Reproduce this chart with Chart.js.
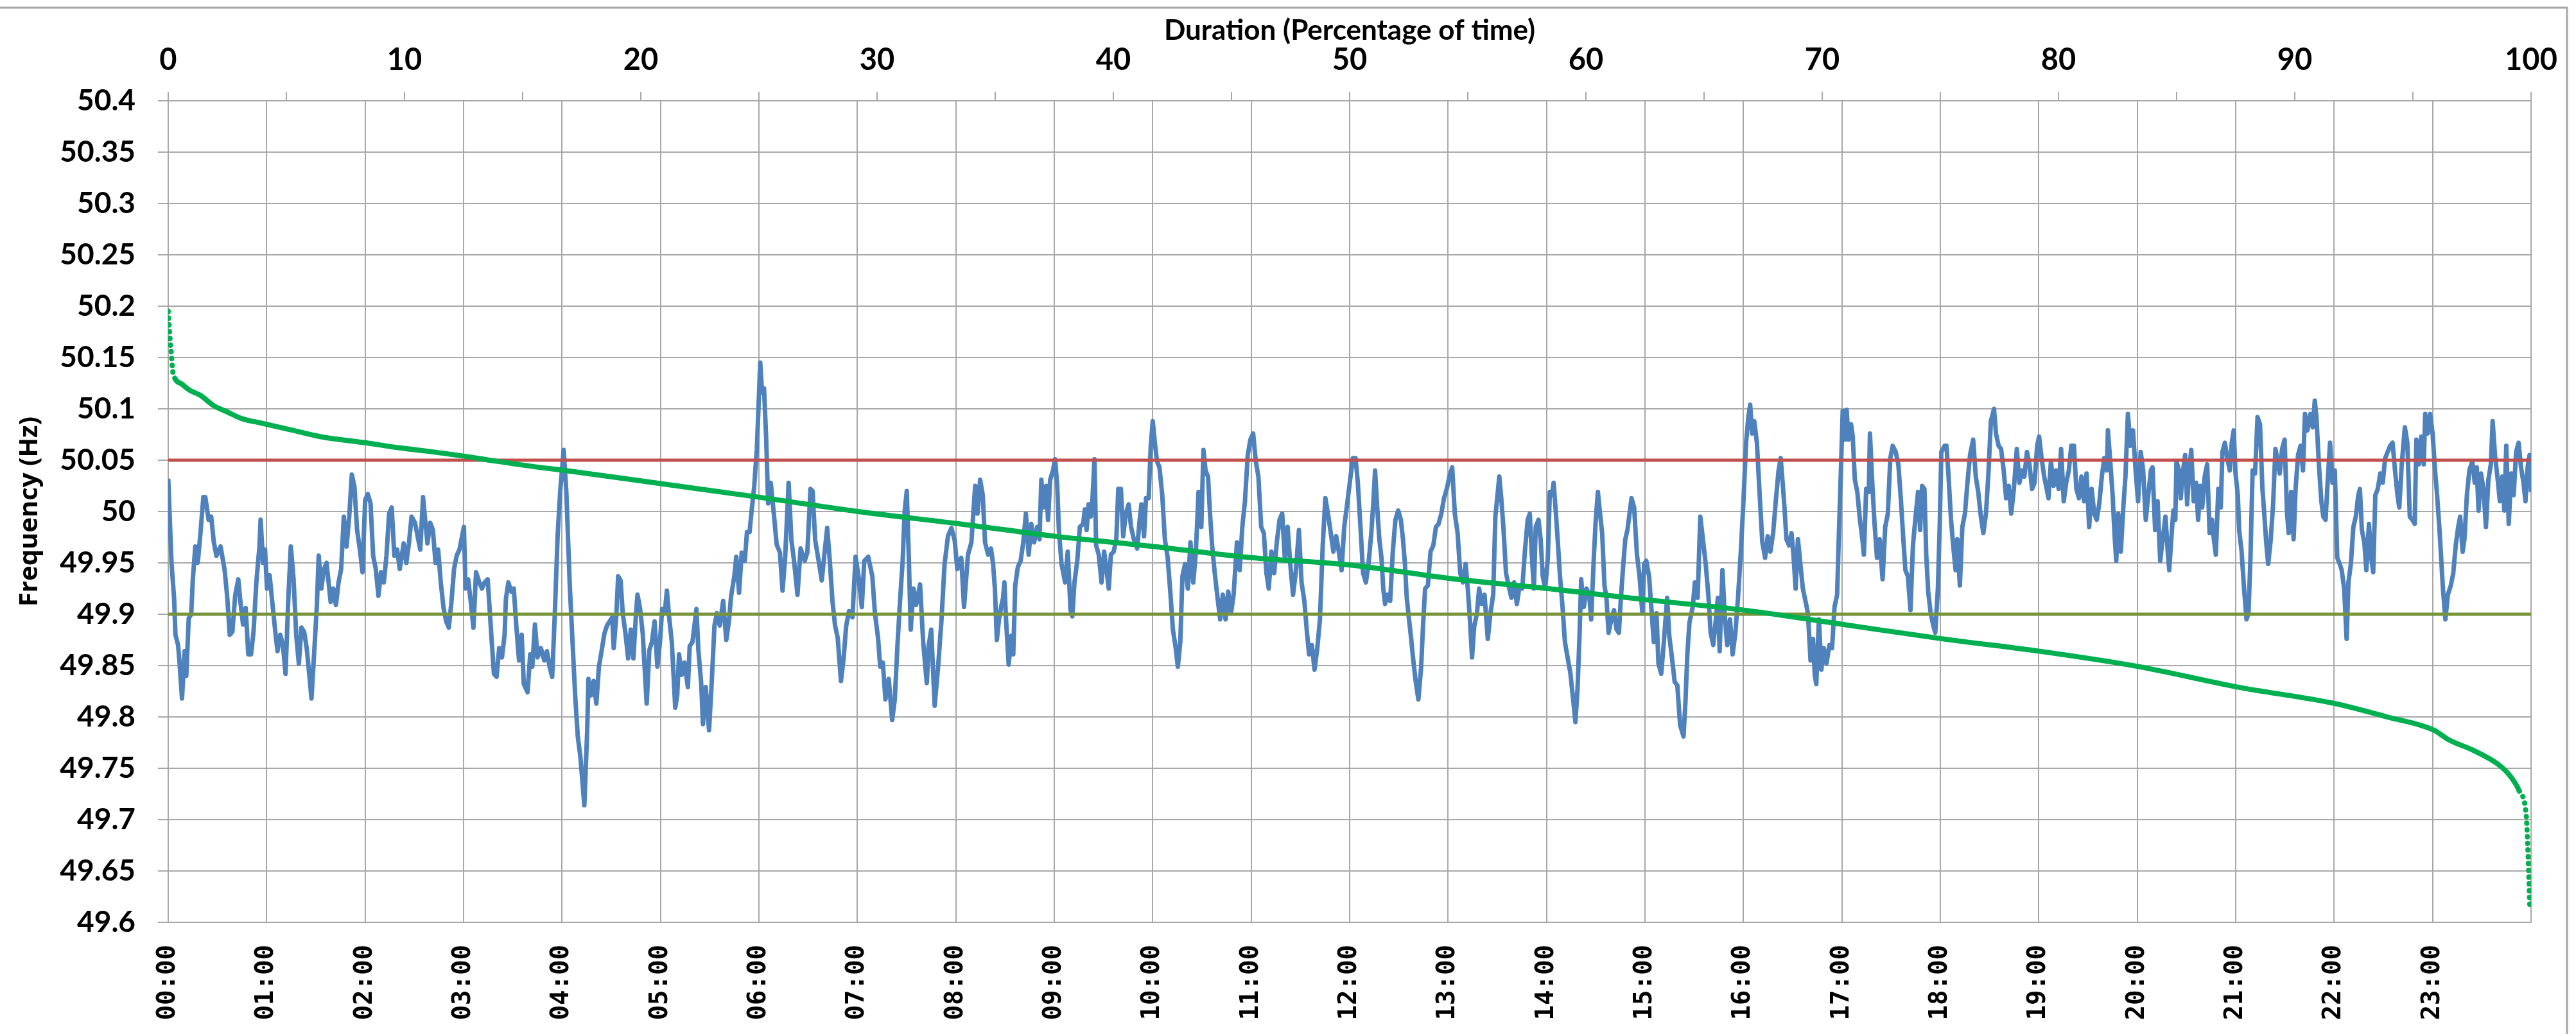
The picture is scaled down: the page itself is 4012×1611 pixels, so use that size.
<!DOCTYPE html>
<html>
<head>
<meta charset="utf-8">
<title>Frequency trace and duration curve</title>
<script src="https://cdn.jsdelivr.net/npm/chart.js@4.4.1/dist/chart.umd.min.js"></script>
<style>
  html, body { margin: 0; padding: 0; background: #ffffff; }
  #wrap { position: relative; width: 4012px; height: 1611px; }
</style>
</head>
<body>
<div id="wrap"><canvas id="freqChart"></canvas></div>
<script>
'use strict';

// Operating limits (Hz)
const upperLimitHz = 50.05;
const lowerLimitHz = 49.9;

// Bottom axis labels, one per hour
const hourLabels = [
  '00:00', '01:00', '02:00', '03:00', '04:00', '05:00', '06:00', '07:00',
  '08:00', '09:00', '10:00', '11:00', '12:00', '13:00', '14:00', '15:00',
  '16:00', '17:00', '18:00', '19:00', '20:00', '21:00', '22:00', '23:00'
];

// Top axis labels (percentage of time)
const percentLabels = [0, 10, 20, 30, 40, 50, 60, 70, 80, 90, 100];

// Frequency over the day: [minute of day, Hz]
const frequencyTrace = [
  [0,50.032],[2,49.95],[3.6,49.915],[4.4,49.88],[6,49.87],[6.8,49.855],[8.4,49.818],[10,49.864],[11,49.84],[12.5,49.896],
  [14,49.9],[15,49.934],[16.5,49.966],[18,49.95],[19.7,49.98],[21.4,50.014],[22.6,50.014],[24.6,49.992],[26.2,49.995],[27.8,49.97],
  [29.4,49.957],[31.9,49.966],[34.3,49.944],[35.9,49.918],[37.5,49.88],[39.1,49.883],[40.8,49.918],[42.7,49.934],[44,49.912],[45.6,49.89],
  [47.2,49.906],[48.8,49.861],[50.5,49.861],[52,49.883],[53.7,49.931],[55.6,49.966],[56.3,49.992],[57.8,49.95],[59,49.963],[60.2,49.925],
  [61.8,49.938],[63.4,49.912],[65,49.887],[66.6,49.864],[68.3,49.88],[69.9,49.87],[71.5,49.842],[73.1,49.912],[74.7,49.966],[76.4,49.934],
  [78,49.88],[79.6,49.852],[81.2,49.887],[82.8,49.883],[84.4,49.867],[86.1,49.839],[87.3,49.818],[89,49.864],[90.6,49.909],[91.7,49.957],
  [93.3,49.925],[94.9,49.944],[96.5,49.95],[99,49.912],[100.6,49.925],[102.2,49.909],[103.8,49.931],[105.4,49.944],[107,49.995],[108.7,49.966],
  [110.3,49.995],[111.9,50.036],[113.5,50.024],[115.1,49.982],[116.8,49.963],[118.4,49.941],[120,50.011],[121.6,50.017],[123.3,50.008],[124.9,49.957],
  [126.5,49.944],[128.1,49.918],[129.7,49.941],[131.4,49.931],[133,49.957],[134.6,49.998],[136.2,50.004],[137.8,49.957],[139.5,49.963],[141.1,49.944],
  [143.5,49.969],[145.1,49.95],[146.7,49.969],[148.3,49.995],[150.4,49.989],[151.5,49.98],[153.6,49.963],[155.3,50.014],[156.4,49.995],[158,49.969],
  [159.7,49.989],[161.3,49.982],[162.9,49.95],[164.5,49.963],[166.1,49.931],[167.8,49.906],[169.4,49.893],[171,49.887],[172.6,49.912],[174.2,49.944],
  [175.8,49.957],[177.5,49.963],[179.1,49.976],[180.2,49.985],[181.2,49.925],[182.8,49.934],[184.4,49.912],[186,49.887],[187.6,49.941],[189.6,49.931],
  [191.2,49.925],[192.8,49.931],[194.7,49.934],[196.9,49.88],[198.5,49.842],[200.1,49.839],[201.7,49.867],[203.4,49.858],[205,49.88],[205.8,49.915],
  [207.3,49.931],[209,49.922],[210.6,49.925],[212.2,49.887],[213.8,49.855],[215.4,49.88],[216.7,49.832],[219,49.824],[220.6,49.861],[221.9,49.849],
  [223.5,49.89],[225.1,49.858],[227.1,49.867],[229.2,49.855],[230.8,49.864],[232.4,49.849],[234,49.839],[235.6,49.9],[237.3,49.976],[238.9,50.02],
  [241,50.06],[242.6,50.02],[244.7,49.929],[246.4,49.873],[248,49.821],[249.6,49.781],[251.2,49.761],[253.6,49.714],[255.3,49.785],[256.1,49.837],
  [257.7,49.821],[259.3,49.835],[260.9,49.813],[262.5,49.849],[264.2,49.865],[265.8,49.881],[267.4,49.889],[269,49.893],[270.6,49.897],[271.5,49.867],
  [273.1,49.899],[274.2,49.937],[275.7,49.933],[277,49.901],[278.7,49.881],[280.3,49.857],[281.9,49.885],[283.5,49.857],[285.1,49.901],[286,49.919],
  [287.6,49.905],[289.2,49.881],[290.3,49.849],[291.6,49.813],[293.2,49.865],[294.8,49.873],[296.4,49.893],[298.1,49.849],[299.7,49.873],[301,49.905],
  [302.6,49.901],[303.9,49.923],[305.3,49.897],[306.9,49.873],[309,49.809],[310.2,49.821],[311.3,49.861],[312.9,49.841],[314.6,49.853],[316.7,49.829],
  [317.8,49.869],[319.5,49.873],[320.7,49.889],[321.9,49.905],[323.1,49.865],[324.8,49.833],[325.9,49.793],[327.6,49.829],[329.6,49.787],[331.2,49.833],
  [332.9,49.889],[334.4,49.901],[336.1,49.889],[338.2,49.913],[340.1,49.875],[341.7,49.893],[343,49.917],[345,49.937],[346.2,49.956],[347.9,49.921],
  [349.5,49.96],[351.4,49.952],[352.7,49.98],[354.3,49.98],[355.5,50.0],[357.1,50.024],[358.7,50.06],[359.8,50.104],[360.8,50.145],[361.9,50.116],
  [363.1,50.12],[364.4,50.072],[365.6,50.008],[367.2,50.028],[369.2,49.996],[370.8,49.968],[372.8,49.96],[374.4,49.923],[376,49.956],[378.1,50.028],
  [379.8,49.972],[381.4,49.952],[383.5,49.919],[385.4,49.964],[387.9,49.952],[389.5,49.96],[391.4,50.022],[392.7,50.02],[394.3,49.972],[396.4,49.952],
  [398.3,49.933],[400,49.96],[401.6,49.984],[403.2,49.952],[404.8,49.913],[406.4,49.889],[408,49.877],[410,49.835],[411.6,49.857],[413.2,49.889],
  [414.9,49.903],[417,49.897],[418.9,49.956],[420.7,49.937],[422.7,49.907],[424.2,49.952],[426.6,49.956],[429.1,49.937],[430.7,49.901],[432.6,49.877],
  [433.9,49.849],[435.5,49.853],[437.1,49.817],[439.1,49.837],[441.2,49.797],[442.8,49.817],[444.4,49.869],[446,49.913],[447.6,49.952],[448.8,50.0],
  [450.1,50.02],[451.4,49.952],[452.5,49.885],[454.2,49.925],[455.8,49.909],[458.2,49.929],[460.1,49.873],[462.3,49.833],[463.4,49.869],[465,49.885],
  [467.1,49.811],[469.2,49.849],[471.2,49.893],[473.1,49.948],[475.2,49.976],[477.3,49.984],[479.3,49.972],[480.9,49.944],[483.3,49.955],[485,49.907],
  [487.4,49.958],[489.5,49.97],[490.7,50.0],[491.8,50.025],[493.2,49.998],[494.8,50.031],[496.4,50.016],[497.8,49.97],[499.7,49.958],[501.4,49.964],
  [502.7,49.949],[503.8,49.925],[505,49.875],[506.3,49.895],[507.6,49.907],[508.8,49.916],[509.6,49.931],[510.6,49.895],[512.2,49.851],[513.9,49.879],
  [515,49.861],[516.2,49.928],[517.8,49.946],[519.5,49.952],[521.1,49.97],[522.7,49.998],[524.4,49.958],[526,49.988],[527.7,49.97],[529.6,49.985],
  [531,49.973],[532.1,50.031],[533.4,50.004],[535.1,50.025],[536.2,49.992],[537.5,50.031],[539.2,50.04],[540.5,50.051],[541.8,50.025],[542.8,49.982],
  [544.4,49.949],[546.6,49.931],[548.2,49.961],[549.9,49.904],[551,49.898],[552.3,49.931],[554,49.952],[555.6,49.985],[557.6,49.988],[558.6,50.002],
  [559.7,49.982],[560.9,50.007],[562.2,49.995],[563.3,50.013],[564.5,50.051],[565.5,49.967],[567.1,49.958],[568.8,49.931],[570.4,49.961],[572.1,49.94],
  [573.2,49.925],[574.5,49.958],[576.2,49.961],[577.8,49.973],[579,50.022],[580.6,50.022],[582,49.976],[583.6,49.998],[585.3,50.007],[586.8,49.985],
  [588.5,49.973],[590.5,49.964],[591.8,49.988],[593.1,50.007],[594.7,49.976],[595.9,50.013],[597.5,50.013],[598.8,50.064],[600,50.088],[601.3,50.067],
  [602.6,50.049],[604.1,50.043],[605.8,50.016],[607.4,49.973],[609.1,49.955],[610.7,49.922],[612.3,49.885],[614,49.867],[615.3,49.849],[616.8,49.873],
  [618.1,49.937],[619.7,49.949],[621.4,49.925],[623,49.97],[624.7,49.931],[626.3,49.961],[627.9,50.019],[629.6,49.985],[630.9,50.06],[632.2,50.04],
  [633.7,50.034],[634.9,49.998],[636.2,49.967],[637.8,49.94],[639.5,49.916],[641.1,49.895],[642.7,49.919],[644.4,49.895],[646,49.922],[647.7,49.901],
  [649.3,49.919],[651.3,49.97],[653,49.943],[654.6,49.985],[656.2,50.01],[657.9,50.055],[659.5,50.07],[661.2,50.076],[662.8,50.049],[664.4,50.034],
  [666.1,49.985],[667.7,49.979],[669.3,49.94],[670.7,49.925],[672.3,49.961],[674,49.94],[675.6,49.97],[677.3,49.992],[678.9,49.998],[680.5,49.955],
  [682.2,49.985],[683.8,49.949],[685.5,49.919],[687.1,49.94],[689.1,49.982],[690.7,49.931],[692.4,49.913],[694,49.882],[695.3,49.861],[697,49.87],
  [698.6,49.846],[700.3,49.867],[701.9,49.895],[703.6,49.967],[705.2,50.013],[706.8,49.998],[708.5,49.979],[710.1,49.961],[711.8,49.976],[713.4,49.961],
  [715.1,49.943],[716.7,49.985],[718.7,50.01],[720.3,50.031],[722,50.052],[723.6,50.052],[725,50.028],[726.6,49.985],[728.2,49.94],[729.9,49.931],
  [731.5,49.949],[733.2,49.979],[734.5,50.01],[735.5,50.04],[736.8,50.004],[738.1,49.973],[739.4,49.955],[740.5,49.925],[741.6,49.91],[743,49.919],
  [744.7,49.913],[746.3,49.961],[747.9,49.992],[749.6,50.001],[751.2,49.992],[752.5,49.973],[753.7,49.949],[754.8,49.916],[756.2,49.895],[757.5,49.876],
  [758.6,49.858],[760.3,49.834],[761.9,49.817],[763.6,49.849],[764.7,49.888],[766,49.925],[767.7,49.928],[769.3,49.961],[771,49.967],[772.6,49.985],
  [774.2,49.988],[775.9,49.998],[777.5,50.013],[779.2,50.022],[780.8,50.034],[782.5,50.043],[784.1,49.998],[785.8,49.979],[787.4,49.94],[789,49.931],
  [790.7,49.949],[792,49.925],[793.3,49.895],[794.6,49.858],[795.9,49.888],[797.6,49.901],[798.9,49.925],[800.5,49.91],[802.2,49.919],[804.2,49.876],
  [805.8,49.901],[807.5,49.919],[808.8,49.995],[810.1,50.016],[811.2,50.034],[812.4,50.013],[813.7,49.985],[815.3,49.94],[817.3,49.925],[818.6,49.916],
  [820.3,49.931],[821.9,49.91],[823.6,49.928],[825.2,49.925],[826.8,49.961],[828.5,49.992],[829.8,49.998],[831.1,49.955],[832.3,49.925],[833.4,49.985],
  [835.1,49.992],[836.4,49.973],[837.7,49.937],[839.2,49.925],[840.8,49.955],[842,50.019],[843.3,50.016],[844.3,50.028],[845.6,50.001],[846.9,49.97],
  [848.2,49.937],[849.9,49.904],[851.2,49.873],[852.8,49.858],[854.5,49.843],[856.1,49.819],[857.6,49.795],[858.9,49.828],[860.1,49.879],[861.1,49.934],
  [862.7,49.907],[864.4,49.925],[866,49.919],[867.2,49.895],[868.8,49.955],[870,49.992],[871.3,50.019],[872.6,49.998],[873.9,49.979],[875.3,49.928],
  [876.5,49.916],[877.8,49.882],[879.5,49.895],[881.1,49.904],[882.7,49.885],[884.1,49.882],[885.2,49.913],[886.8,49.949],[888,49.973],[889.3,49.982],
  [890.6,49.998],[891.8,50.013],[893.4,50.004],[895.1,49.958],[896.7,49.937],[898.4,49.901],[899.5,49.949],[900.8,49.952],[902.5,49.937],[904.1,49.901],
  [905.4,49.873],[907,49.901],[908.2,49.852],[909.9,49.842],[911.5,49.873],[913.5,49.916],[914.8,49.879],[916.4,49.858],[918.1,49.834],[919.7,49.831],
  [921.4,49.792],[923.5,49.781],[924.7,49.816],[925.8,49.861],[927.1,49.892],[929.1,49.907],[930.4,49.931],[932.1,49.916],[933.7,49.995],[935.3,49.973],
  [937,49.949],[938.6,49.919],[940,49.882],[941.6,49.87],[943.2,49.895],[944.4,49.916],[945.5,49.864],[947.2,49.943],[948.5,49.901],[950.1,49.87],
  [951.8,49.895],[953.4,49.861],[955.1,49.882],[956.7,49.916],[958.4,49.961],[960,50.01],[961.6,50.067],[963,50.092],[964.1,50.104],[965.3,50.076],
  [966.6,50.088],[968.2,50.067],[969.9,50.016],[971.5,49.97],[973.2,49.955],[974.8,49.976],[976.4,49.961],[978.1,49.979],[979.7,50.01],[981.4,50.04],
  [982.7,50.052],[983.9,50.028],[985,50.004],[986.2,49.973],[987.8,49.967],[989.3,49.979],[990.6,49.955],[991.8,49.925],[993.2,49.973],[994.7,49.949],
  [996.2,49.925],[997.8,49.913],[999.3,49.901],[1000.9,49.855],[1002.4,49.876],[1003.5,49.84],[1004.4,49.832],[1006,49.895],[1007.5,49.846],[1009,49.867],
  [1010.6,49.852],[1012.4,49.87],[1014,49.867],[1015.5,49.907],[1017.1,49.919],[1018.3,49.985],[1019.4,50.04],[1020.5,50.098],[1021.7,50.07],[1022.9,50.099],
  [1024,50.07],[1025.6,50.085],[1026.6,50.073],[1027.9,50.031],[1029.4,50.019],[1031,49.992],[1032.5,49.973],[1033.4,49.958],[1034.8,50.022],[1036.4,50.019],
  [1037.1,50.076],[1038.7,50.022],[1039.9,49.988],[1041.4,49.955],[1043,49.973],[1044.8,49.934],[1046.4,49.985],[1048,49.998],[1049.5,50.052],[1051,50.064],
  [1052.8,50.058],[1054.4,50.046],[1055.9,50.013],[1057.2,49.979],[1058.7,49.943],[1060.2,49.937],[1061.8,49.904],[1063.3,49.967],[1064.9,49.995],[1066.4,50.019],
  [1067.7,49.982],[1068.9,50.025],[1070.3,50.022],[1071.4,49.958],[1072.6,49.922],[1074.1,49.901],[1075.7,49.889],[1076.9,49.882],[1078.5,49.925],[1079.6,49.985],
  [1080.6,50.058],[1082.6,50.064],[1083.7,50.064],[1084.9,50.037],[1086.5,49.992],[1088,49.964],[1089.3,49.943],[1090.3,49.973],[1091.9,49.928],[1093.4,49.985],
  [1095,49.998],[1096.5,50.028],[1098.1,50.055],[1100,50.07],[1101.6,50.034],[1103.1,50.019],[1104.7,49.995],[1106.2,49.979],[1107.8,49.998],[1109.3,50.037],
  [1110.8,50.088],[1112.7,50.1],[1113.9,50.076],[1115.5,50.064],[1117,50.061],[1118.6,50.04],[1120.1,50.013],[1121.7,50.025],[1123.2,49.998],[1124.8,50.022],
  [1126.6,50.061],[1128.2,50.028],[1129.7,50.04],[1131.2,50.034],[1132.8,50.058],[1134.3,50.046],[1135.9,50.022],[1137.4,50.028],[1139,50.064],[1140.2,50.073],
  [1141.7,50.052],[1143.3,50.034],[1144.8,50.022],[1145.9,50.013],[1147.4,50.049],[1149,50.025],[1150.5,50.04],[1152.1,50.022],[1153.6,50.061],[1155.2,50.01],
  [1156.7,50.028],[1158.3,50.04],[1159.8,50.064],[1161.4,50.064],[1162.9,50.022],[1164.5,50.013],[1166,50.034],[1167.6,50.01],[1169.1,50.037],[1170.7,49.985],
  [1172.2,50.022],[1173.8,49.998],[1175.3,49.992],[1176.8,50.007],[1178.4,50.034],[1179.9,50.052],[1181.5,50.04],[1182.1,50.079],[1183.4,50.052],[1185,50.016],
  [1186.1,49.979],[1187.2,49.952],[1188.4,49.998],[1190,49.961],[1191.5,50.004],[1192.8,50.034],[1194.3,50.095],[1195.9,50.064],[1197.4,50.079],[1199,50.04],
  [1200.5,50.01],[1202.1,50.058],[1203.6,50.04],[1205.2,49.992],[1206.7,50.016],[1208.3,50.04],[1209.3,50.043],[1210.9,49.982],[1212.4,50.01],[1214,49.952],
  [1215.5,49.973],[1217.2,49.995],[1218.7,49.958],[1219.5,49.943],[1221,49.979],[1222,50.001],[1223.2,49.992],[1223.9,50.049],[1225.4,50.04],[1226.5,50.013],
  [1227.7,50.037],[1229.2,50.055],[1230.4,50.007],[1231.4,50.034],[1232.9,50.06],[1234.4,50.01],[1235.9,50.028],[1237.1,49.992],[1238.4,50.025],[1239.6,50.004],
  [1241.1,50.034],[1242.6,50.046],[1244.1,49.979],[1245.6,49.992],[1246.7,49.973],[1247.9,49.958],[1249.4,50.022],[1250.9,50.004],[1251.9,50.058],[1253.4,50.067],
  [1254.9,50.052],[1256.4,50.04],[1257.6,50.067],[1258.8,50.079],[1259.9,50.037],[1261.3,50.016],[1262.1,49.982],[1263.6,49.961],[1265.1,49.925],[1266.6,49.895],
  [1267.8,49.901],[1269,49.955],[1270.3,50.04],[1271.8,50.037],[1273.3,50.092],[1274.8,50.085],[1276.3,50.022],[1277.4,49.998],[1278.6,49.97],[1279.8,49.949],
  [1281.2,49.97],[1282.8,50.007],[1284.2,50.061],[1285.7,50.049],[1286.8,50.037],[1288.3,50.061],[1289.8,50.07],[1291.3,49.998],[1292.3,49.979],[1293.8,50.019],
  [1295.3,49.973],[1296.5,50.022],[1298,50.055],[1299.5,50.064],[1301,50.04],[1302.2,50.095],[1303.7,50.079],[1305.5,50.095],[1307,50.082],[1308.2,50.108],
  [1309.2,50.092],[1310.7,50.046],[1312.2,50.01],[1313.4,49.995],[1314.8,49.992],[1316,50.028],[1317.5,50.067],[1319,50.028],[1320.4,50.04],[1321.9,49.955],
  [1323.4,49.949],[1324.6,49.943],[1326.1,49.925],[1327.6,49.876],[1328.7,49.931],[1330.2,49.949],[1331.7,49.985],[1333.2,49.995],[1334.7,50.016],[1335.7,50.022],
  [1336.9,49.982],[1338.4,49.97],[1339.6,49.943],[1341.2,49.988],[1342.6,49.955],[1343.8,49.941],[1345.1,50.016],[1346.6,50.022],[1348.1,50.037],[1349.6,50.028],
  [1351.1,50.052],[1352.6,50.058],[1354.1,50.064],[1355.6,50.067],[1357.1,50.04],[1358.6,50.016],[1359.7,50.004],[1361.2,50.046],[1363.1,50.082],[1364.6,50.067],
  [1366.1,49.995],[1367.6,49.992],[1369.1,49.988],[1370.1,50.07],[1371.6,50.046],[1373.1,50.073],[1374.6,50.046],[1375.5,50.095],[1377,50.076],[1378.5,50.095],
  [1380,50.076],[1381.5,50.04],[1382.6,50.019],[1384.1,49.985],[1385.1,49.958],[1386.3,49.925],[1387.8,49.895],[1389.3,49.919],[1391.1,49.928],[1392.6,49.94],
  [1394.1,49.967],[1395.6,49.985],[1396.8,49.995],[1398.3,49.961],[1399.4,49.973],[1400.9,50.016],[1402.4,50.04],[1404.2,50.049],[1405.7,50.028],[1406.9,50.043],
  [1408,50.001],[1409.5,50.037],[1411,50.022],[1412.5,49.985],[1414,50.031],[1415.5,50.046],[1416.6,50.088],[1418,50.055],[1419.5,50.034],[1421,50.01],
  [1422.5,50.034],[1423.7,50.001],[1424.9,50.064],[1426.4,49.988],[1427.9,50.037],[1429.4,50.016],[1430.9,50.058],[1432.4,50.067],[1433.9,50.043],[1435.4,50.028],
  [1436.6,50.01],[1437.9,50.043],[1439.1,50.055],[1440,50.019]
];

// Duration curve: [percentage of time, Hz]
const durationCurve = [
  [0,50.195],[0.04,50.18],[0.08,50.167],[0.13,50.154],[0.19,50.137],[0.3,50.129],[0.58,50.124],[0.92,50.118],
  [1.37,50.113],[1.93,50.103],[2.5,50.097],[3.06,50.091],[3.96,50.086],[5.3,50.079],[6.43,50.073],[8.35,50.067],
  [9.8,50.062],[10.9,50.059],[12.5,50.054],[13.9,50.049],[15.4,50.044],[16.8,50.04],[20.9,50.027],[25,50.014],
  [29.2,50.0],[33.5,49.988],[37.5,49.976],[41.7,49.966],[45.9,49.955],[50,49.948],[54.2,49.935],[58.4,49.925],
  [62.6,49.914],[66.7,49.904],[70.9,49.89],[75.1,49.876],[79.2,49.864],[83.4,49.849],[87.6,49.829],[91.7,49.813],
  [93.9,49.8],[95.9,49.787],[96.5,49.778],[97.6,49.767],[98.6,49.754],[99.1,49.743],[99.5,49.728],[99.8,49.703],
  [99.85,49.68],[99.9,49.65],[99.95,49.614]
];

const GRID = '#a8a8a8';
const AREA = { left: 262, top: 157, right: 70, bottomAxis: 174 };

const toPoints = rows => rows.map(([x, y]) => ({ x, y }));
const flat = hz => [{ x: 0, y: hz }, { x: 1440, y: hz }];

// steep parts of the duration curve are drawn as separate markers
const isSteep = ctx => {
  const dx = ctx.p1.parsed.x - ctx.p0.parsed.x;
  return dx === 0 || Math.abs((ctx.p1.parsed.y - ctx.p0.parsed.y) / dx) > 0.05;
};

const noPad = scale => { scale.paddingLeft = 0; scale.paddingRight = 0; scale.paddingTop = 0; scale.paddingBottom = 0; };

const frameBorder = {
  id: 'frameBorder',
  afterDraw(chart) {
    const c = chart.ctx;
    c.save();
    c.strokeStyle = '#a6a6a6';
    c.lineWidth = 3;
    c.beginPath();
    c.moveTo(0, 12);
    c.lineTo(3998, 12);
    c.lineTo(3998, chart.height);
    c.stroke();
    c.restore();
  }
};

new Chart(document.getElementById('freqChart').getContext('2d'), {
  type: 'line',
  data: {
    datasets: [
      {
        label: 'Duration curve',
        data: toPoints(durationCurve),
        xAxisID: 'x2', yAxisID: 'y',
        borderColor: '#00b050',
        borderWidth: 8,
        borderCapStyle: 'round',
        borderJoinStyle: 'round',
        cubicInterpolationMode: 'monotone',
        pointRadius: 0,
        order: 0,
        segment: { borderDash: ctx => isSteep(ctx) ? [0.5, 10] : undefined }
      },
      {
        label: 'Upper limit',
        data: flat(upperLimitHz),
        xAxisID: 'x', yAxisID: 'y',
        borderColor: '#c0504d',
        borderWidth: 5,
        pointRadius: 0,
        order: 1
      },
      {
        label: 'Lower limit',
        data: flat(lowerLimitHz),
        xAxisID: 'x', yAxisID: 'y',
        borderColor: '#77933c',
        borderWidth: 5,
        pointRadius: 0,
        order: 2
      },
      {
        label: 'Frequency',
        data: toPoints(frequencyTrace),
        xAxisID: 'x', yAxisID: 'y',
        borderColor: '#4f81bd',
        borderWidth: 7,
        borderJoinStyle: 'round',
        pointRadius: 0,
        order: 3
      }
    ]
  },
  options: {
    responsive: true,
    maintainAspectRatio: false,
    animation: false,
    devicePixelRatio: 1,
    layout: { padding: { left: 0, top: 0, right: AREA.right, bottom: 0 } },
    plugins: { legend: { display: false }, tooltip: { enabled: false } },
    scales: {
      x: {
        type: 'linear',
        position: 'bottom',
        min: 0,
        max: 1440,
        afterFit: scale => { noPad(scale); scale.height = AREA.bottomAxis; },
        grid: { color: GRID, lineWidth: 2, drawTicks: false },
        border: { color: GRID, width: 2 },
        ticks: {
          stepSize: 60,
          autoSkip: false,
          minRotation: 90,
          maxRotation: 90,
          padding: 35,
          color: '#000',
          font: { family: '"DejaVu Sans Mono"', weight: 'bold', size: 39 },
          callback: v => hourLabels[v / 60] || ''
        }
      },
      x2: {
        type: 'linear',
        position: 'top',
        min: 0,
        max: 100,
        afterFit: scale => { noPad(scale); scale.height = AREA.top; },
        grid: { drawOnChartArea: false, color: GRID, lineWidth: 2, tickLength: 14 },
        border: { color: GRID, width: 2 },
        title: {
          display: true,
          text: 'Duration (Percentage of time)',
          color: '#000',
          font: { family: 'Lato', weight: 'bold', size: 44 },
          padding: { top: 21, bottom: 0 }
        },
        ticks: {
          stepSize: 5,
          autoSkip: false,
          maxRotation: 0,
          padding: 21,
          color: '#000',
          font: { family: 'Lato', weight: 'bold', size: 47 },
          callback: v => percentLabels.includes(v) ? String(v) : ''
        }
      },
      y: {
        type: 'linear',
        position: 'left',
        min: 49.6,
        max: 50.4,
        afterFit: scale => { noPad(scale); scale.width = AREA.left; },
        grid: { color: GRID, lineWidth: 2, tickLength: 16 },
        border: { color: GRID, width: 2 },
        title: {
          display: true,
          text: 'Frequency (Hz)',
          color: '#000',
          font: { family: '"Open Sans"', weight: 'bold', size: 40 },
          padding: { top: 23, bottom: 0 }
        },
        ticks: {
          stepSize: 0.05,
          padding: 35,
          color: '#000',
          font: { family: 'Lato', weight: 'bold', size: 46 },
          callback: v => String(Number(v.toFixed(2)))
        }
      }
    }
  },
  plugins: [frameBorder]
});
</script>
</body>
</html>
